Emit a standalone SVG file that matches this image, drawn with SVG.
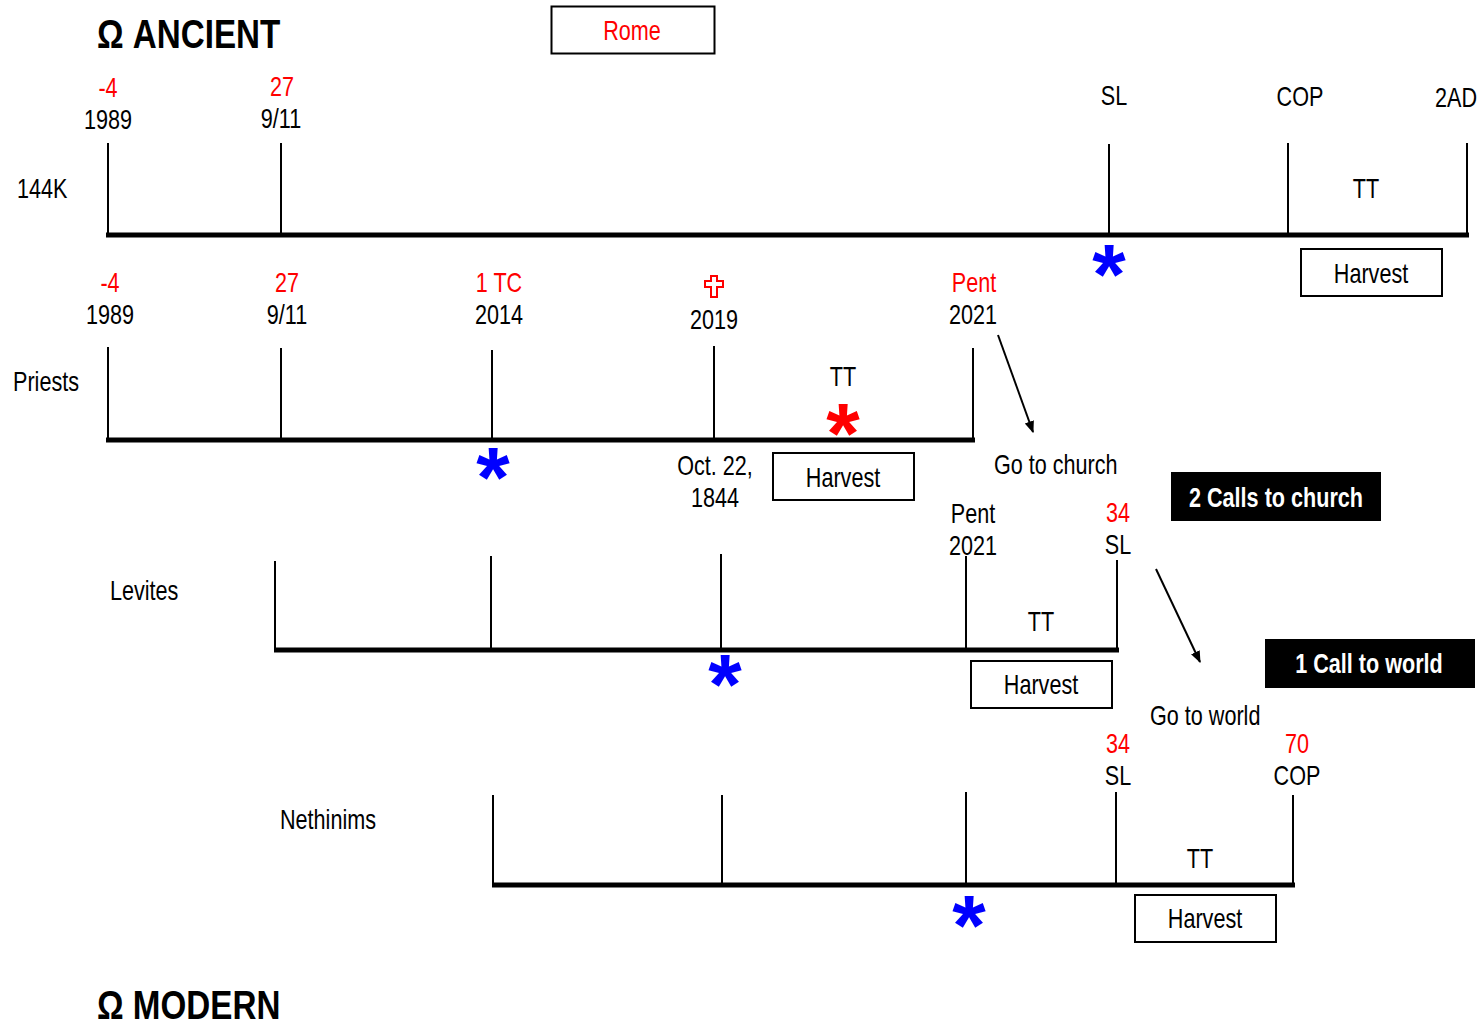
<svg xmlns="http://www.w3.org/2000/svg" width="1479" height="1021" viewBox="0 0 1479 1021">
<defs>
<style>
text{font-family:"Liberation Sans",Arial,sans-serif;font-size:27px;fill:#000}
.c{text-anchor:middle}
.r{fill:#ff0000}
.title{font-size:40px;font-weight:bold}
.wb{fill:#fff;font-weight:bold;text-anchor:middle}
.ast{font-family:"Liberation Sans",Arial,sans-serif;font-weight:bold;font-size:86px;text-anchor:middle}
.blue{fill:#0000ff}
.axis{stroke:#000;stroke-width:5;fill:none}
.tick{stroke:#000;stroke-width:2;fill:none}
.box{fill:#fff;stroke:#000;stroke-width:2}
.bbox{fill:#000;stroke:none}
.arr{stroke:#000;stroke-width:2;fill:none;marker-end:url(#ah)}
</style>
<marker id="ah" viewBox="0 0 10 10" refX="9" refY="5" markerWidth="6" markerHeight="6" markerUnits="strokeWidth" orient="auto">
<path d="M0,1 L10,5 L0,9 z" fill="#000"/>
</marker>
</defs>
<rect width="1479" height="1021" fill="#fff"/>

<g id="title-ancient"><text class="title" transform="translate(97,48) scale(.83,1)">Ω ANCIENT</text></g>
<g id="title-modern"><text class="title" transform="translate(97,1019) scale(.83,1)">Ω MODERN</text></g>

<g id="rome"><rect class="box" x="551.5" y="6.5" width="163" height="47"/><text class="c r" transform="translate(632,40) scale(.8,1)">Rome</text></g>

<!-- Row 1: 144K -->
<g id="row-144k">
<text transform="translate(17,198) scale(.8,1)">144K</text>
<line class="axis" x1="106" y1="235" x2="1469" y2="235"/>
<line class="tick" x1="108" y1="143" x2="108" y2="235"/>
<line class="tick" x1="281" y1="143" x2="281" y2="235"/>
<line class="tick" x1="1109" y1="144" x2="1109" y2="235"/>
<line class="tick" x1="1288" y1="143" x2="1288" y2="235"/>
<line class="tick" x1="1467" y1="143" x2="1467" y2="235"/>
<text class="c r" transform="translate(108,97) scale(.8,1)">-4</text>
<text class="c" transform="translate(108,129) scale(.8,1)">1989</text>
<text class="c r" transform="translate(282,96) scale(.8,1)">27</text>
<text class="c" transform="translate(281,128) scale(.8,1)">9/11</text>
<text class="c" transform="translate(1114,105) scale(.8,1)">SL</text>
<text class="c" transform="translate(1300,106) scale(.8,1)">COP</text>
<text transform="translate(1435,107) scale(.8,1)">2AD</text>
<text class="c" transform="translate(1366,198) scale(.8,1)">TT</text>
<text class="ast blue" x="1109" y="304">*</text>
<rect class="box" x="1301" y="249" width="141" height="47"/>
<text class="c" transform="translate(1371,283) scale(.8,1)">Harvest</text>
</g>

<!-- Row 2: Priests -->
<g id="row-priests">
<text transform="translate(13,391) scale(.8,1)">Priests</text>
<line class="axis" x1="106" y1="440" x2="975" y2="440"/>
<line class="tick" x1="108" y1="347" x2="108" y2="440"/>
<line class="tick" x1="281" y1="348" x2="281" y2="440"/>
<line class="tick" x1="492" y1="350" x2="492" y2="440"/>
<line class="tick" x1="714" y1="346" x2="714" y2="440"/>
<line class="tick" x1="973" y1="348" x2="973" y2="440"/>
<text class="c r" transform="translate(110,292) scale(.8,1)">-4</text>
<text class="c" transform="translate(110,324) scale(.8,1)">1989</text>
<text class="c r" transform="translate(287,292) scale(.8,1)">27</text>
<text class="c" transform="translate(287,324) scale(.8,1)">9/11</text>
<text class="c r" transform="translate(499,292) scale(.8,1)">1 TC</text>
<text class="c" transform="translate(499,324) scale(.8,1)">2014</text>
<path d="M711,276 h6 v5 h6 v6 h-6 v10 h-6 v-10 h-6 v-6 h6 z" fill="#fff" stroke="#ff0000" stroke-width="2"/>
<text class="c" transform="translate(714,329) scale(.8,1)">2019</text>
<text class="c r" transform="translate(974,292) scale(.8,1)">Pent</text>
<text class="c" transform="translate(973,324) scale(.8,1)">2021</text>
<text class="c" transform="translate(843,386) scale(.8,1)">TT</text>
<text class="ast r" x="843" y="463">*</text>
<text class="ast blue" x="493" y="507">*</text>
<text class="c" transform="translate(715,475) scale(.8,1)">Oct. 22,</text>
<text class="c" transform="translate(715,507) scale(.8,1)">1844</text>
<rect class="box" x="773" y="453" width="141" height="47"/>
<text class="c" transform="translate(843,487) scale(.8,1)">Harvest</text>
<text transform="translate(994,474) scale(.8,1)">Go to church</text>
</g>

<g id="calls-church"><rect class="bbox" x="1171" y="472" width="210" height="49"/><text class="wb" transform="translate(1276,507) scale(.8,1)">2 Calls to church</text></g>

<!-- Row 3: Levites -->
<g id="row-levites">
<text transform="translate(110,600) scale(.8,1)">Levites</text>
<line class="axis" x1="274" y1="650" x2="1119" y2="650"/>
<line class="tick" x1="275" y1="561" x2="275" y2="650"/>
<line class="tick" x1="491" y1="556" x2="491" y2="650"/>
<line class="tick" x1="721" y1="554" x2="721" y2="650"/>
<line class="tick" x1="966" y1="556" x2="966" y2="650"/>
<line class="tick" x1="1117" y1="560" x2="1117" y2="650"/>
<text class="c" transform="translate(973,523) scale(.8,1)">Pent</text>
<text class="c" transform="translate(973,555) scale(.8,1)">2021</text>
<text class="c r" transform="translate(1118,522) scale(.8,1)">34</text>
<text class="c" transform="translate(1118,554) scale(.8,1)">SL</text>
<text class="c" transform="translate(1041,631) scale(.8,1)">TT</text>
<text class="ast blue" x="725" y="714">*</text>
<rect class="box" x="971" y="661" width="141" height="47"/>
<text class="c" transform="translate(1041,694) scale(.8,1)">Harvest</text>
<text transform="translate(1150,725) scale(.8,1)">Go to world</text>
</g>

<g id="call-world"><rect class="bbox" x="1265" y="639" width="210" height="49"/><text class="wb" transform="translate(1369,673) scale(.8,1)">1 Call to world</text></g>

<!-- Row 4: Nethinims -->
<g id="row-nethinims">
<text transform="translate(280,829) scale(.8,1)">Nethinims</text>
<line class="axis" x1="492" y1="885" x2="1295" y2="885"/>
<line class="tick" x1="493" y1="795" x2="493" y2="885"/>
<line class="tick" x1="722" y1="795" x2="722" y2="885"/>
<line class="tick" x1="966" y1="792" x2="966" y2="885"/>
<line class="tick" x1="1116" y1="792" x2="1116" y2="885"/>
<line class="tick" x1="1293" y1="795" x2="1293" y2="885"/>
<text class="c r" transform="translate(1118,753) scale(.8,1)">34</text>
<text class="c" transform="translate(1118,785) scale(.8,1)">SL</text>
<text class="c r" transform="translate(1297,753) scale(.8,1)">70</text>
<text class="c" transform="translate(1297,785) scale(.8,1)">COP</text>
<text class="c" transform="translate(1200,868) scale(.8,1)">TT</text>
<text class="ast blue" x="969" y="955">*</text>
<rect class="box" x="1135" y="895" width="141" height="47"/>
<text class="c" transform="translate(1205,928) scale(.8,1)">Harvest</text>
</g>

<g id="connectors">
<line class="arr" x1="998" y1="335" x2="1033" y2="432"/>
<line class="arr" x1="1156" y1="569" x2="1200" y2="662"/>
</g>
</svg>
